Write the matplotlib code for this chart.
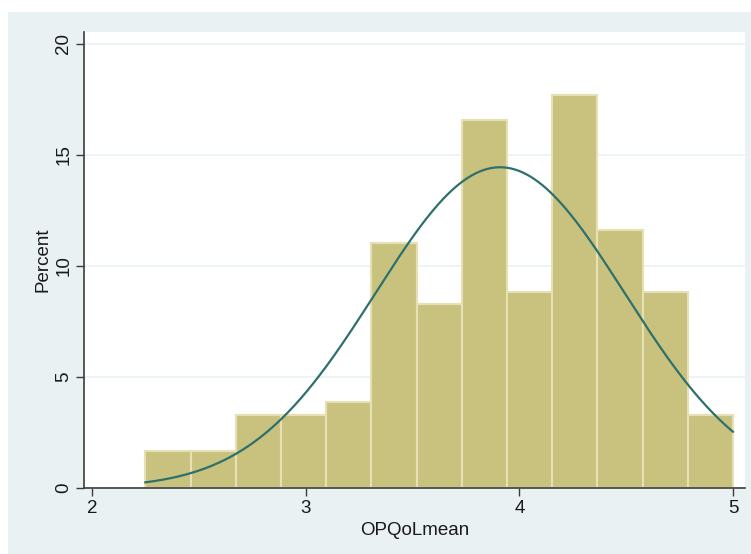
import numpy as np
import matplotlib
matplotlib.use("Agg")
import matplotlib.pyplot as plt
from matplotlib.patches import Rectangle

# Data
bin_start = 2.25
bin_width = 0.2115
percents = [1.66, 1.66, 3.31, 3.31, 3.87, 11.05, 8.29, 16.57, 8.84, 17.68, 11.60, 8.84, 3.31]
norm_mean = 3.91
norm_sd = 0.584
x_ticks = [2, 3, 4, 5]
y_ticks = [0, 5, 10, 15, 20]

plt.rcParams['font.family'] = ['Liberation Sans', 'DejaVu Sans']

fig = plt.figure(figsize=(7.51, 5.54), dpi=100)
fig.patch.set_facecolor('white')
bg = Rectangle((8 / 751, 0), 1 - 8 / 751, 1 - 12 / 554, transform=fig.transFigure,
               facecolor='#EAF1F3', edgecolor='none', zorder=-10)
fig.patches.append(bg)

ax = fig.add_axes([84 / 751, 66 / 554, 661 / 751, 456 / 554])
ax.set_facecolor('white')

edges = bin_start + bin_width * np.arange(len(percents))
ax.bar(edges, percents, width=bin_width, align='edge', color='#C9C27F',
       edgecolor='#E6E1B4', linewidth=1.5, zorder=2)

xs = np.linspace(bin_start, bin_start + bin_width * len(percents), 300)
ys = 100 * bin_width / (norm_sd * np.sqrt(2 * np.pi)) * np.exp(-0.5 * ((xs - norm_mean) / norm_sd) ** 2)
ax.plot(xs, ys, color='#2E706B', linewidth=1.6, zorder=3)

ax.set_xlim(1.963, 5.056)
ax.set_ylim(0, 20.54)
ax.set_xticks(x_ticks)
ax.set_yticks(y_ticks)
ax.set_yticklabels([str(t) for t in y_ticks], rotation=90, va='center')
ax.grid(axis='y', color='#EAF2F3', linewidth=1.2, zorder=0)
ax.set_axisbelow(True)

for s in ['top', 'right']:
    ax.spines[s].set_visible(False)
for s in ['left', 'bottom']:
    ax.spines[s].set_color('#3C3C3C')
    ax.spines[s].set_linewidth(1.2)
ax.tick_params(axis='both', direction='out', length=5.5, width=1.0, color='#3C3C3C',
               labelsize=13.5, labelcolor='#1A1A1A', pad=3)
ax.set_xlabel('OPQoLmean', fontsize=13.5, color='#1A1A1A', labelpad=4)
ax.set_ylabel('Percent', fontsize=13.5, color='#1A1A1A', labelpad=3)

fig.savefig('out.png', dpi=100, facecolor=fig.get_facecolor())
